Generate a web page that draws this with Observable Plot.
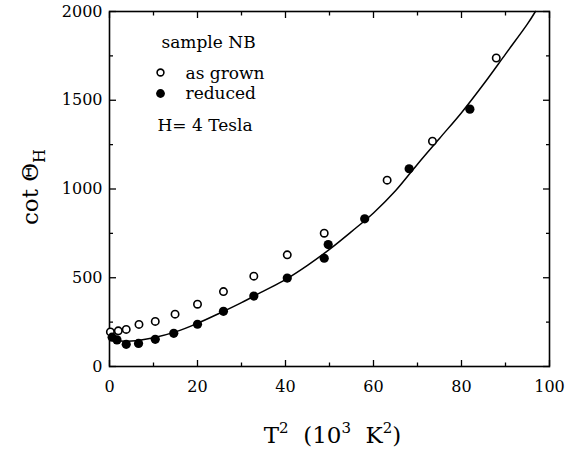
<!DOCTYPE html>
<html><head><meta charset="utf-8">
<script src="https://cdn.jsdelivr.net/npm/d3@7"></script>
<script src="https://cdn.jsdelivr.net/npm/@observablehq/plot@0.6"></script>
<style>body{margin:0;background:#fff}#chart svg{display:block}</style>
</head><body><div id="chart"></div>
<script>
// as grown (open circles)
const asGrownX = [0.2, 2.0, 3.8, 6.7, 10.4, 14.9, 20.0, 25.9, 32.8, 40.4, 48.8, 63.1, 73.4, 87.9];
const asGrownY = [195, 201, 209, 237, 254, 295, 351, 422, 509, 629, 751, 1050, 1269, 1738];
// reduced (filled circles)
const reducedX = [0.6, 1.7, 3.8, 6.6, 10.4, 14.6, 20.0, 25.9, 32.8, 40.4, 48.8, 49.7, 58.0, 68.1, 81.9];
const reducedY = [165, 150, 125, 130, 153, 187, 238, 311, 397, 498, 610, 687, 832, 1114, 1450];
// fitted curve
const fitX = [0.5, 5, 10, 15, 20, 25, 30, 35, 40, 45, 50, 55, 60, 65, 70, 75, 80, 85, 90, 95, 96.8];
const fitY = [148, 143, 162, 195, 243, 300, 360, 425, 490, 570, 660, 760, 865, 990, 1140, 1285, 1430, 1590, 1760, 1930, 2000];
// ticks
const xMajor = [0, 20, 40, 60, 80, 100];
const xMinor = [10, 30, 50, 70, 90];
const yMajor = [0, 500, 1000, 1500, 2000];
const yMinor = [250, 750, 1250, 1750];
// texts
const legendTitle = "sample NB";
const seriesNames = ["as grown", "reduced"];
const fieldNote = "H= 4 Tesla";
const xTitleParts = [["T", 0], ["2", 1], ["  (10", 0], ["3", 1], ["  K", 0], ["2", 1], [")", 0]];
const yTitleParts = [["cot \u0398", 0], ["H", -1]];

const asGrown = asGrownX.map((x, i) => ({x, y: asGrownY[i]}));
const reduced = reducedX.map((x, i) => ({x, y: reducedY[i]}));
const fit = fitX.map((x, i) => ({x, y: fitY[i]}));
const blank = () => "";
const xTitle = xTitleParts.map(p => p[0]).join("");
const yTitle = yTitleParts.map(p => p[0]).join("");

const chart = Plot.plot({
  width: 572, height: 454,
  marginLeft: 109, marginRight: 23, marginTop: 11, marginBottom: 88,
  style: {fontFamily: "DejaVu Serif", fontSize: "16px", background: "white", color: "black"},
  x: {domain: [0, 100]},
  y: {domain: [0, 2000]},
  marks: [
    Plot.frame({stroke: "black", strokeWidth: 1.6}),
    // bottom axis labels & ticks
    Plot.axisX(xMajor, {anchor: "bottom", tickSize: 0, tickPadding: 14, label: null, fontSize: 16, tickFormat: d => String(d)}),
    Plot.axisX(xMajor, {anchor: "bottom", tickSize: -6, tickFormat: blank, label: null, strokeWidth: 1.3}),
    Plot.axisX(xMinor, {anchor: "bottom", tickSize: -3.5, tickFormat: blank, label: null, strokeWidth: 1.3}),
    Plot.axisX(xMajor, {anchor: "top", tickSize: -6, tickFormat: blank, label: null, strokeWidth: 1.3}),
    Plot.axisX(xMinor, {anchor: "top", tickSize: -3.5, tickFormat: blank, label: null, strokeWidth: 1.3}),
    // left axis labels & ticks
    Plot.axisY(yMajor, {anchor: "left", tickSize: 0, tickPadding: 7, label: null, fontSize: 16, tickFormat: d => String(d)}),
    Plot.axisY(yMajor, {anchor: "left", tickSize: -7, tickFormat: blank, label: null, strokeWidth: 1.3}),
    Plot.axisY(yMinor, {anchor: "left", tickSize: -4, tickFormat: blank, label: null, strokeWidth: 1.3}),
    Plot.axisY(yMajor, {anchor: "right", tickSize: -7, tickFormat: blank, label: null, strokeWidth: 1.3}),
    Plot.axisY(yMinor, {anchor: "right", tickSize: -4, tickFormat: blank, label: null, strokeWidth: 1.3}),
    // fit curve
    Plot.line(fit, {x: "x", y: "y", curve: "catmull-rom", stroke: "black", strokeWidth: 1.5}),
    // data
    Plot.dot(asGrown, {x: "x", y: "y", r: 3.7, fill: "white", stroke: "black", strokeWidth: 1.6}),
    Plot.dot(reduced, {x: "x", y: "y", r: 4.6, fill: "black", stroke: "none"}),
    // legend
    Plot.text([legendTitle], {text: d => d, frameAnchor: "top-left", textAnchor: "start", lineAnchor: "bottom", dx: 52, dy: 36, fontSize: 17}),
    Plot.dot([seriesNames[0]], {frameAnchor: "top-left", dx: 51, dy: 61, r: 3.4, fill: "white", stroke: "black", strokeWidth: 1.6}),
    Plot.text([seriesNames[0]], {text: d => d, frameAnchor: "top-left", textAnchor: "start", lineAnchor: "bottom", dx: 76, dy: 67, fontSize: 17}),
    Plot.dot([seriesNames[1]], {frameAnchor: "top-left", dx: 51, dy: 82, r: 4.4, fill: "black"}),
    Plot.text([seriesNames[1]], {text: d => d, frameAnchor: "top-left", textAnchor: "start", lineAnchor: "bottom", dx: 76, dy: 87, fontSize: 17}),
    Plot.text([fieldNote], {text: d => d, frameAnchor: "top-left", textAnchor: "start", lineAnchor: "bottom", dx: 48, dy: 119, fontSize: 17}),
    // axis titles
    Plot.text([xTitle], {text: d => d, frameAnchor: "bottom", textAnchor: "middle", lineAnchor: "bottom", dx: 3, dy: 76, fontSize: 23}),
    Plot.text([yTitle], {text: d => d, frameAnchor: "left", textAnchor: "middle", lineAnchor: "bottom", rotate: -90, dx: -72, dy: -2, fontSize: 23})
  ]
});
document.getElementById("chart").append(chart);

function richText(str, parts, supSize, shift) {
  const t = d3.select(chart).selectAll("text").filter(function() { return this.textContent === str; });
  if (t.empty()) return;
  t.text(null).attr("xml:space", "preserve").style("white-space", "pre");
  let cur = 0;
  parts.forEach(([s, lvl]) => {
    const off = lvl === 1 ? -shift : lvl === -1 ? shift : 0;
    const ts = t.append("tspan").text(s).attr("dy", off - cur);
    if (lvl !== 0) ts.attr("font-size", supSize);
    cur = off;
  });
}
richText(xTitle, xTitleParts, 15, 10);
richText(yTitle, yTitleParts, 16, 7);
</script>
</body></html>
